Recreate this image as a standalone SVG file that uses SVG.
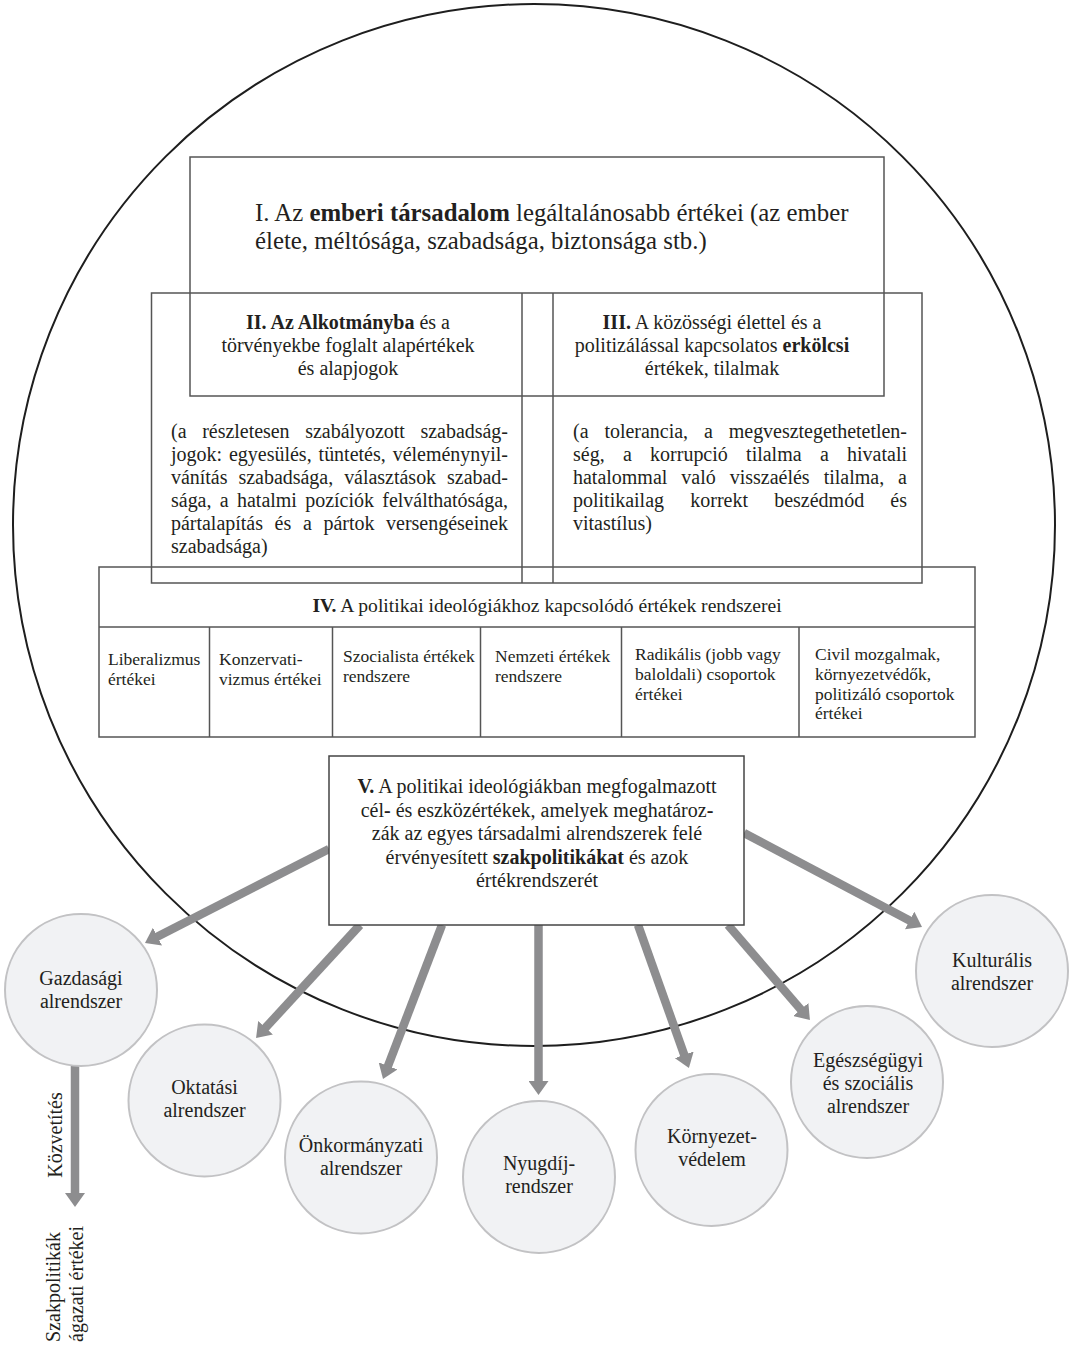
<svg xmlns="http://www.w3.org/2000/svg" width="1072" height="1345" viewBox="0 0 1072 1345">
<defs>
<style>
.t{font-family:"Liberation Serif","Times New Roman",serif;fill:#231f20;}
.b{font-weight:bold;}
.m{text-anchor:middle;}
.box{fill:none;stroke:#555;stroke-width:1.5;}
.node{fill:#f1f2f4;stroke:#c2c2c4;stroke-width:2;}
.arr{stroke:#8d8d8f;stroke-width:8.5;fill:none;marker-end:url(#ah);}
.h1{font-size:24.8px;}
.h2{font-size:20px;}
.cell{font-size:17.5px;}
.lab{font-size:20px;text-anchor:middle;}
</style>
<marker id="ah" markerUnits="userSpaceOnUse" viewBox="0 0 14 20" markerWidth="14" markerHeight="20" refX="2" refY="10" orient="auto">
<path d="M0,0 L14,10 L0,20 z" fill="#8d8d8f"/>
</marker>
</defs>
<rect width="1072" height="1345" fill="#fff"/>

<g id="outer-circle">
<circle cx="534" cy="525" r="521" fill="none" stroke="#1e1e1e" stroke-width="2"/>
</g>

<g id="connectors">
<line class="arr" x1="329" y1="849" x2="155.7" y2="937.5"/>
<line class="arr" x1="360" y1="925" x2="264.2" y2="1029.2"/>
<line class="arr" x1="442" y1="925" x2="387.3" y2="1067.8"/>
<line class="arr" x1="538.5" y1="925" x2="538.5" y2="1083"/>
<line class="arr" x1="638" y1="925" x2="684.9" y2="1056.7"/>
<line class="arr" x1="728" y1="925" x2="802.1" y2="1011"/>
<line class="arr" x1="744" y1="833" x2="911.4" y2="921.4"/>
<line class="arr" x1="75" y1="1066" x2="75" y2="1195"/>
</g>

<g id="box-I">
<rect class="box" x="190" y="157" width="694" height="239"/>
<text class="t h1" x="255" y="221">I. Az <tspan class="b">emberi társadalom</tspan> legáltalánosabb értékei (az ember</text>
<text class="t h1" x="255" y="249">élete, méltósága, szabadsága, biztonsága stb.)</text>
</g>

<g id="box-II-III">
<rect class="box" x="151.5" y="293" width="770.5" height="290"/>
<line class="box" x1="522" y1="293" x2="522" y2="583"/>
<line class="box" x1="553" y1="293" x2="553" y2="583"/>
</g>

<g id="box-II">
<text class="t h2 m" x="348" y="329"><tspan class="b">II. Az Alkotmányba</tspan> és a</text>
<text class="t h2 m" x="348" y="352">törvényekbe foglalt alapértékek</text>
<text class="t h2 m" x="348" y="375">és alapjogok</text>
<text class="t h2" x="171" y="438" word-spacing="10.7" textLength="337" lengthAdjust="spacing">(a részletesen szabályozott szabadság-</text>
<text class="t h2" x="171" y="461" word-spacing="2" textLength="337" lengthAdjust="spacing">jogok: egyesülés, tüntetés, véleménynyil-</text>
<text class="t h2" x="171" y="484" word-spacing="6" textLength="337" lengthAdjust="spacing">vánítás szabadsága, választások szabad-</text>
<text class="t h2" x="171" y="507" word-spacing="3.4" textLength="337" lengthAdjust="spacing">sága, a hatalmi pozíciók felválthatósága,</text>
<text class="t h2" x="171" y="530" word-spacing="6.7" textLength="337" lengthAdjust="spacing">pártalapítás és a pártok versengéseinek</text>
<text class="t h2" x="171" y="553">szabadsága)</text>
</g>

<g id="box-III">
<text class="t h2 m" x="712" y="329"><tspan class="b">III.</tspan> A közösségi élettel és a</text>
<text class="t h2 m" x="712" y="352">politizálással kapcsolatos <tspan class="b">erkölcsi</tspan></text>
<text class="t h2 m" x="712" y="375">értékek, tilalmak</text>
<text class="t h2" x="573" y="438" word-spacing="11" textLength="334" lengthAdjust="spacing">(a tolerancia, a megvesztegethetetlen-</text>
<text class="t h2" x="573" y="461" word-spacing="13.3" textLength="334" lengthAdjust="spacing">ség, a korrupció tilalma a hivatali</text>
<text class="t h2" x="573" y="484" word-spacing="9" textLength="334" lengthAdjust="spacing">hatalommal való visszaélés tilalma, a</text>
<text class="t h2" x="573" y="507" word-spacing="21.2" textLength="334" lengthAdjust="spacing">politikailag korrekt beszédmód és</text>
<text class="t h2" x="573" y="530">vitastílus)</text>
</g>

<g id="box-IV">
<rect class="box" x="99" y="567" width="876" height="170"/>
<line class="box" x1="99" y1="627" x2="975" y2="627"/>
<line class="box" x1="209.5" y1="627" x2="209.5" y2="737"/>
<line class="box" x1="332.5" y1="627" x2="332.5" y2="737"/>
<line class="box" x1="480.5" y1="627" x2="480.5" y2="737"/>
<line class="box" x1="621.5" y1="627" x2="621.5" y2="737"/>
<line class="box" x1="799" y1="627" x2="799" y2="737"/>
<text class="t m" font-size="19.6" x="547" y="612"><tspan class="b">IV.</tspan> A politikai ideológiákhoz kapcsolódó értékek rendszerei</text>
<text class="t cell" x="108" y="665">Liberalizmus</text>
<text class="t cell" x="108" y="685">értékei</text>
<text class="t cell" x="219" y="665">Konzervati-</text>
<text class="t cell" x="219" y="685">vizmus értékei</text>
<text class="t cell" x="343" y="662">Szocialista értékek</text>
<text class="t cell" x="343" y="682">rendszere</text>
<text class="t cell" x="495" y="662">Nemzeti értékek</text>
<text class="t cell" x="495" y="682">rendszere</text>
<text class="t cell" x="635" y="660">Radikális (jobb vagy</text>
<text class="t cell" x="635" y="680">baloldali) csoportok</text>
<text class="t cell" x="635" y="699.5">értékei</text>
<text class="t cell" x="815" y="660">Civil mozgalmak,</text>
<text class="t cell" x="815" y="680">környezetvédők,</text>
<text class="t cell" x="815" y="699.5">politizáló csoportok</text>
<text class="t cell" x="815" y="719">értékei</text>
</g>

<g id="box-V">
<rect x="329" y="756" width="415" height="169" fill="#fff" stroke="#444" stroke-width="1.5"/>
<text class="t h2 m" x="537" y="793"><tspan class="b">V.</tspan> A politikai ideológiákban megfogalmazott</text>
<text class="t h2 m" x="537" y="816.5">cél<tspan class="b">-</tspan> és eszközértékek, amelyek meghatároz<tspan class="b">-</tspan></text>
<text class="t h2 m" x="537" y="840">zák az egyes társadalmi alrendszerek felé</text>
<text class="t h2 m" x="537" y="863.5">érvényesített <tspan class="b">szakpolitikákat</tspan> és azok</text>
<text class="t h2 m" x="537" y="887">értékrendszerét</text>
</g>

<g id="node-gazdasagi">
<circle class="node" cx="81" cy="990" r="76"/>
<text class="t lab" x="81" y="985">Gazdasági</text>
<text class="t lab" x="81" y="1008">alrendszer</text>
</g>
<g id="node-oktatasi">
<circle class="node" cx="204.5" cy="1100.5" r="76"/>
<text class="t lab" x="204.5" y="1094">Oktatási</text>
<text class="t lab" x="204.5" y="1117">alrendszer</text>
</g>
<g id="node-onkormanyzati">
<circle class="node" cx="361" cy="1157.5" r="76"/>
<text class="t lab" x="361" y="1152">Önkormányzati</text>
<text class="t lab" x="361" y="1175">alrendszer</text>
</g>
<g id="node-nyugdij">
<circle class="node" cx="539" cy="1177" r="76"/>
<text class="t lab" x="539" y="1170">Nyugdíj-</text>
<text class="t lab" x="539" y="1193">rendszer</text>
</g>
<g id="node-kornyezet">
<circle class="node" cx="711.5" cy="1150" r="76"/>
<text class="t lab" x="712" y="1143">Környezet-</text>
<text class="t lab" x="712" y="1166">védelem</text>
</g>
<g id="node-egeszsegugyi">
<circle class="node" cx="867" cy="1082" r="76"/>
<text class="t lab" x="868" y="1067">Egészségügyi</text>
<text class="t lab" x="868" y="1090">és szociális</text>
<text class="t lab" x="868" y="1113">alrendszer</text>
</g>
<g id="node-kulturalis">
<circle class="node" cx="992" cy="971" r="76"/>
<text class="t lab" x="992" y="967">Kulturális</text>
<text class="t lab" x="992" y="990">alrendszer</text>
</g>

<g id="side-labels">
<text class="t" font-size="20" text-anchor="middle" transform="translate(62,1135) rotate(-90)">Közvetítés</text>
<text class="t" font-size="20" transform="translate(59.5,1342) rotate(-90)">Szakpolitikák</text>
<text class="t" font-size="20" transform="translate(82.5,1342) rotate(-90)">ágazati értékei</text>
</g>
</svg>
